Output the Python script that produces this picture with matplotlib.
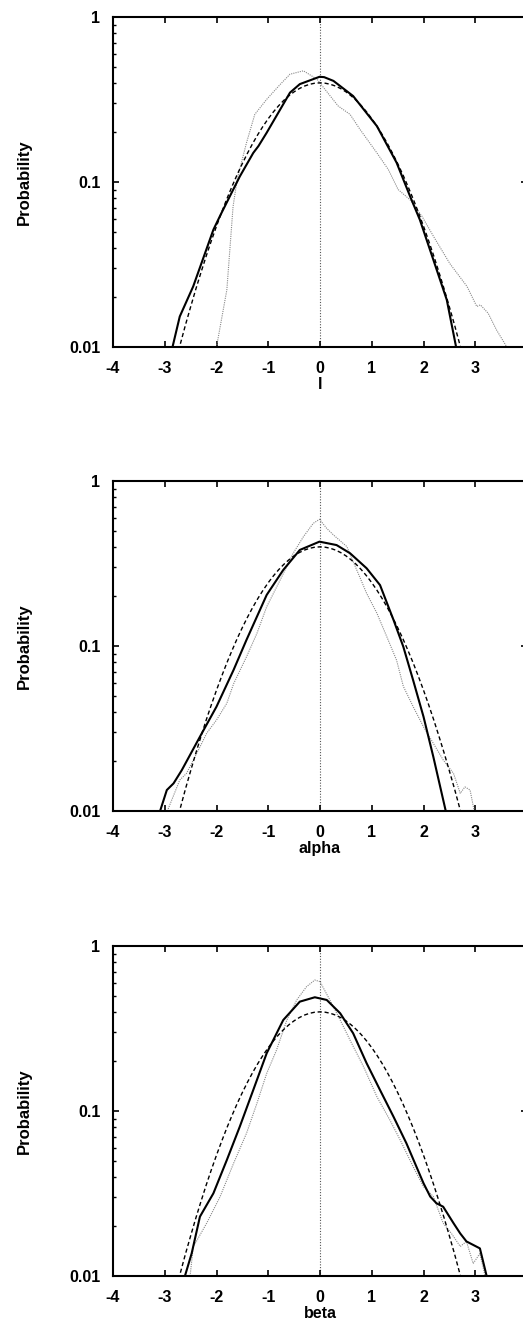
import matplotlib
matplotlib.use("Agg")
import matplotlib.pyplot as plt
from matplotlib.ticker import FixedLocator, LogLocator, NullFormatter

plt.rcParams['font.family'] = ['Liberation Sans', 'DejaVu Sans']
plt.rcParams['axes.unicode_minus'] = False

# ---------------------------------------------------------
# data
# ---------------------------------------------------------
xlabels = ["l", "alpha", "beta"]
xticks = [-4, -3, -2, -1, 0, 1, 2, 3, 4]
yticks = [0.01, 0.1, 1]
ytick_labels = ["0.01", "0.1", "1"]

# dashed reference curve (same in all three panels)
gauss_x = [-2.8, -2.7, -2.6, -2.5, -2.4, -2.3, -2.2, -2.1, -2.0, -1.9, -1.8, -1.7,
           -1.6, -1.5, -1.4, -1.3, -1.2, -1.1, -1.0, -0.9, -0.8, -0.7, -0.6, -0.5,
           -0.4, -0.3, -0.2, -0.1, 0.0, 0.1, 0.2, 0.3, 0.4, 0.5, 0.6, 0.7, 0.8, 0.9,
           1.0, 1.1, 1.2, 1.3, 1.4, 1.5, 1.6, 1.7, 1.8, 1.9, 2.0, 2.1, 2.2, 2.3, 2.4,
           2.5, 2.6, 2.7, 2.8]
gauss_y = [0.0079, 0.0104, 0.0136, 0.0175, 0.0224, 0.0283, 0.0355, 0.0440, 0.0540,
           0.0656, 0.0790, 0.0940, 0.111, 0.1295, 0.1497, 0.1714, 0.1942, 0.2179,
           0.2420, 0.2661, 0.2897, 0.3123, 0.3332, 0.3521, 0.3683, 0.3814, 0.3910,
           0.3970, 0.3989, 0.3970, 0.3910, 0.3814, 0.3683, 0.3521, 0.3332, 0.3123,
           0.2897, 0.2661, 0.2420, 0.2179, 0.1942, 0.1714, 0.1497, 0.1295, 0.111,
           0.0940, 0.0790, 0.0656, 0.0540, 0.0440, 0.0355, 0.0283, 0.0224, 0.0175,
           0.0136, 0.0104, 0.0079]

# panel 1 (l)
l_solid_x = [-2.85, -2.71, -2.45, -2.06, -1.92, -1.55, -1.29, -1.19, -1.03, -0.58,
             -0.39, -0.01, 0.08, 0.26, 0.64, 1.10, 1.48, 1.74, 1.93, 2.19, 2.45, 2.63]
l_solid_y = [0.010, 0.0153, 0.0233, 0.0514, 0.0634, 0.108, 0.150, 0.165, 0.199, 0.348,
             0.392, 0.434, 0.432, 0.41, 0.332, 0.218, 0.131, 0.082, 0.059, 0.0338,
             0.0193, 0.010]
l_grey_x = [-2.00, -1.80, -1.68, -1.60, -1.42, -1.26, -1.03, -0.77, -0.58, -0.32,
            -0.06, 0.35, 0.58, 0.77, 1.10, 1.32, 1.51, 1.74, 1.97, 2.19, 2.51, 2.84,
            3.03, 3.10, 3.25, 3.41, 3.61]
l_grey_y = [0.010, 0.0222, 0.071, 0.104, 0.173, 0.257, 0.317, 0.39, 0.45, 0.472,
            0.42, 0.289, 0.257, 0.209, 0.150, 0.119, 0.090, 0.078, 0.062, 0.047,
            0.032, 0.0233, 0.0176, 0.0180, 0.016, 0.0127, 0.010]

# panel 2 (alpha)
a_solid_x = [-3.09, -2.96, -2.83, -2.67, -2.32, -2.00, -1.67, -1.42, -1.03, -0.71,
             -0.39, -0.01, 0.32, 0.58, 0.90, 1.16, 1.42, 1.61, 1.80, 2.00, 2.19, 2.43]
a_solid_y = [0.010, 0.0134, 0.0147, 0.0177, 0.0282, 0.0429, 0.0716, 0.109, 0.204,
             0.289, 0.382, 0.429, 0.409, 0.365, 0.296, 0.234, 0.144, 0.099, 0.062,
             0.0373, 0.0213, 0.010]
a_grey_x = [-2.95, -2.71, -2.58, -2.38, -2.19, -2.00, -1.80, -1.67, -1.42, -1.22,
            -1.03, -0.77, -0.52, -0.32, -0.13, -0.01, 0.13, 0.26, 0.52, 0.71, 0.90,
            1.10, 1.29, 1.48, 1.61, 1.80, 2.00, 2.19, 2.38, 2.58, 2.71, 2.80, 2.90,
            2.98]
a_grey_y = [0.010, 0.0154, 0.0169, 0.0224, 0.0296, 0.0356, 0.045, 0.059, 0.086,
            0.119, 0.173, 0.251, 0.364, 0.46, 0.554, 0.586, 0.516, 0.471, 0.40,
            0.289, 0.209, 0.158, 0.114, 0.082, 0.057, 0.0429, 0.0324, 0.0257,
            0.0204, 0.0169, 0.0128, 0.014, 0.0134, 0.010]

# panel 3 (beta)
b_solid_x = [-2.61, -2.48, -2.32, -2.06, -1.80, -1.55, -1.29, -1.03, -0.71, -0.39,
             -0.10, 0.13, 0.39, 0.64, 0.90, 1.16, 1.42, 1.67, 2.00, 2.13, 2.25, 2.38,
             2.58, 2.71, 2.83, 3.09, 3.22]
b_solid_y = [0.010, 0.0137, 0.0229, 0.0317, 0.0505, 0.0804, 0.134, 0.224, 0.356,
             0.46, 0.489, 0.471, 0.391, 0.296, 0.195, 0.134, 0.0924, 0.0637, 0.0365,
             0.0303, 0.0276, 0.0263, 0.0209, 0.0181, 0.0162, 0.0147, 0.010]
b_grey_x = [-2.51, -2.45, -2.19, -1.93, -1.67, -1.42, -1.22, -1.03, -0.84, -0.64,
            -0.45, -0.26, -0.10, 0.0, 0.19, 0.39, 0.58, 0.84, 1.10, 1.35, 1.55, 1.80,
            2.00, 2.19, 2.38, 2.54, 2.71, 2.83, 2.96, 3.09, 3.19]
b_grey_y = [0.010, 0.015, 0.0209, 0.0303, 0.0482, 0.0733, 0.111, 0.169, 0.234, 0.356,
            0.471, 0.567, 0.622, 0.608, 0.471, 0.356, 0.269, 0.186, 0.122, 0.0882,
            0.0667, 0.046, 0.0348, 0.0303, 0.0209, 0.0181, 0.0151, 0.0162, 0.0119,
            0.0137, 0.010]

panels = [
    (l_solid_x, l_solid_y, l_grey_x, l_grey_y),
    (a_solid_x, a_solid_y, a_grey_x, a_grey_y),
    (b_solid_x, b_solid_y, b_grey_x, b_grey_y),
]

# ---------------------------------------------------------
# layout (pixel positions of each axes box)
# ---------------------------------------------------------
W, H = 523, 1319
left_px, width_px = 113, 414
panel_bottoms_px = [347, 811, 1276]
height_px = 330

fig = plt.figure(figsize=(W / 100, H / 100), dpi=100)
fig.patch.set_facecolor('white')

tick_font = dict(size=11.5, weight='bold')

for i, (sx, sy, gx, gy) in enumerate(panels):
    ax = fig.add_axes([left_px / W, 1 - panel_bottoms_px[i] / H,
                       width_px / W, height_px / H])

    ax.axvline(0, color='#555555', lw=0.8, linestyle=(0, (1, 1.5)), zorder=1)
    ax.plot(gx, gy, color='#888888', lw=0.8, linestyle=(0, (1, 1)), zorder=2)
    ax.plot(gauss_x, gauss_y, color='black', lw=1.0, linestyle=(0, (3, 2)), zorder=3)
    ax.plot(sx, sy, color='black', lw=1.5, linestyle='-', zorder=4)

    ax.set_yscale('log')
    ax.set_xlim(-4, 4)
    ax.set_ylim(0.01, 1)

    ax.xaxis.set_major_locator(FixedLocator(xticks))
    ax.set_xticklabels([str(t) for t in xticks], **tick_font)
    ax.yaxis.set_major_locator(FixedLocator(yticks))
    ax.set_yticklabels(ytick_labels, **tick_font)
    ax.yaxis.set_minor_locator(LogLocator(base=10, subs=range(2, 10)))
    ax.yaxis.set_minor_formatter(NullFormatter())

    ax.tick_params(axis='both', which='major', direction='in', length=4.5,
                   width=1.2, top=True, right=True, color='black')
    ax.tick_params(axis='x', which='major', pad=10)
    ax.tick_params(axis='y', which='major', pad=9)
    ax.tick_params(axis='y', which='minor', direction='in', length=2.5,
                   width=1.0, right=True)

    for sp in ax.spines.values():
        sp.set_linewidth(1.5)

    ax.set_ylabel('Probability', fontsize=12, weight='bold')
    ax.yaxis.set_label_coords((32 - left_px) / width_px, 0.5)
    ax.set_xlabel(xlabels[i], fontsize=11.5, weight='bold', labelpad=1)

fig.savefig('out.png', dpi=100, facecolor='white')
